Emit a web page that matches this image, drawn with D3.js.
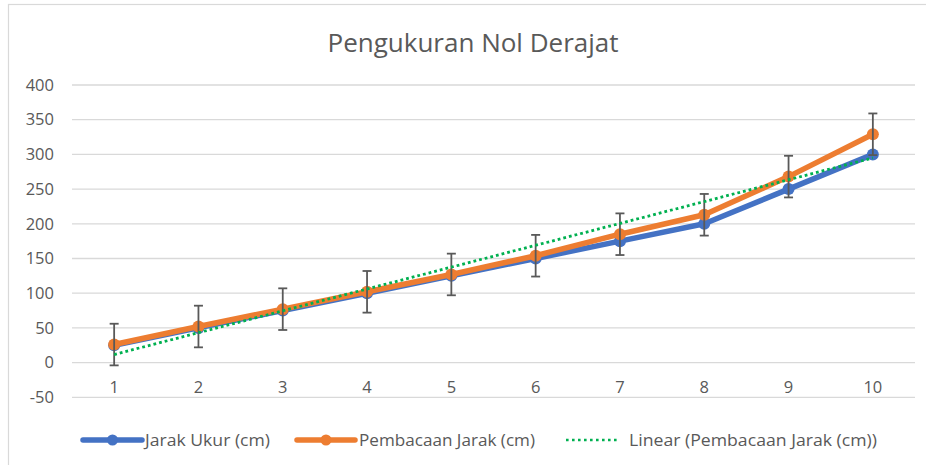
<!DOCTYPE html>
<html><head><meta charset="utf-8">
<script src="https://cdn.jsdelivr.net/npm/d3@7"></script>
<style>body{margin:0;background:#fff}svg{display:block;font-family:"Open Sans",sans-serif}</style>
</head><body><svg id="c" width="926" height="465"></svg>
<script>
const categories = [1,2,3,4,5,6,7,8,9,10];
const jarakUkur = [25,50,75,100,125,150,175,200,250,300];
const pembacaan = [26,52,77,102,127,154,185,213,268,329];
const errorAmount = 30;
const yTicks = [-50,0,50,100,150,200,250,300,350,400];
const seriesNames = ["Jarak Ukur (cm)","Pembacaan Jarak (cm)","Linear (Pembacaan Jarak (cm))"];
const title = "Pengukuran Nol Derajat";

const svg = d3.select("#c");
// chart border
svg.append("rect").attr("x",8.5).attr("y",4.5).attr("width",940).attr("height",480)
  .attr("fill","none").attr("stroke","#d9d9d9").attr("stroke-width",1.2);

const x = d3.scaleBand().domain(categories).range([72,915]);
const y = d3.scaleLinear().domain([-50,400]).range([397.3,85]);
const cx = d => x(d)+x.bandwidth()/2;

svg.append("text").attr("x",473).attr("y",52).attr("text-anchor","middle")
  .attr("font-size",26).attr("fill","#595959").text(title);

// gridlines
svg.append("g").selectAll("line").data(yTicks).join("line")
  .attr("x1",72).attr("x2",915).attr("y1",d=>y(d)).attr("y2",d=>y(d))
  .attr("stroke","#d9d9d9").attr("stroke-width",1.3);

// y axis labels
const yAxis = d3.axisLeft(y).tickValues(yTicks).tickSize(0).tickPadding(0).tickFormat(d=>d<0?"-"+Math.abs(d):d);
const ga = svg.append("g").attr("transform","translate(54,0)").call(yAxis);
ga.select(".domain").remove();
ga.selectAll("text").attr("font-size",16.5).attr("fill","#595959").attr("font-family","Open Sans");

// x axis labels
const xAxis = d3.axisBottom(x).tickSize(0).tickPadding(0);
const gx = svg.append("g").attr("transform","translate(0,0)").call(xAxis);
gx.select(".domain").remove();
gx.selectAll("text").attr("font-size",16.5).attr("fill","#595959").attr("font-family","Open Sans")
  .attr("dy",null).attr("y",393);

const line = d3.line().x((d,i)=>cx(categories[i])).y(d=>y(d));

function drawSeries(vals,color){
  svg.append("path").datum(vals).attr("d",line).attr("fill","none")
    .attr("stroke",color).attr("stroke-width",5.5).attr("stroke-linejoin","round").attr("stroke-linecap","round");
  svg.append("g").selectAll("circle").data(vals).join("circle")
    .attr("cx",(d,i)=>cx(categories[i])).attr("cy",d=>y(d)).attr("r",6).attr("fill",color);
}
drawSeries(jarakUkur,"#4472C4");
drawSeries(pembacaan,"#ED7D31");

// error bars on Pembacaan
const eb = svg.append("g").attr("stroke","#595959").attr("stroke-width",1.8);
pembacaan.forEach((v,i)=>{
  const px = cx(categories[i]);
  eb.append("line").attr("x1",px).attr("x2",px).attr("y1",y(v-errorAmount)).attr("y2",y(v+errorAmount));
  eb.append("line").attr("x1",px-4.5).attr("x2",px+4.5).attr("y1",y(v-errorAmount)).attr("y2",y(v-errorAmount));
  eb.append("line").attr("x1",px-4.5).attr("x2",px+4.5).attr("y1",y(v+errorAmount)).attr("y2",y(v+errorAmount));
});

// linear trendline of Pembacaan (least squares)
const mx = d3.mean(categories), my = d3.mean(pembacaan);
const slope = d3.sum(categories,(c,i)=>(c-mx)*(pembacaan[i]-my))/d3.sum(categories,c=>(c-mx)**2);
const icpt = my - slope*mx;
const c0 = categories[0], c1 = categories[categories.length-1];
svg.append("line").attr("x1",cx(c0)).attr("x2",cx(c1))
  .attr("y1",y(icpt+slope*c0)).attr("y2",y(icpt+slope*c1))
  .attr("stroke","#00B050").attr("stroke-width",2.8).attr("stroke-dasharray","2.8 3");

// legend
const ly = 440;
const lg = svg.append("g").attr("font-size",16.5).attr("fill","#595959");
const items = [
  {x1:83,x2:142,tx:145,tw:125,c:"#4472C4",t:seriesNames[0],type:"m"},
  {x1:297,x2:355,tx:359,tw:176,c:"#ED7D31",t:seriesNames[1],type:"m"},
  {x1:566,x2:619,tx:629,tw:248,c:"#00B050",t:seriesNames[2],type:"d"}];
items.forEach(it=>{
  if(it.type==="m"){
    lg.append("line").attr("x1",it.x1).attr("x2",it.x2).attr("y1",ly).attr("y2",ly)
      .attr("stroke",it.c).attr("stroke-width",5.5).attr("stroke-linecap","round");
    lg.append("circle").attr("cx",(it.x1+it.x2)/2).attr("cy",ly).attr("r",5.5).attr("fill",it.c);
  } else {
    lg.append("line").attr("x1",it.x1).attr("x2",it.x2).attr("y1",ly).attr("y2",ly)
      .attr("stroke",it.c).attr("stroke-width",2.6).attr("stroke-dasharray","2.6 3.4");
  }
  lg.append("text").attr("x",it.tx).attr("y",ly+6).attr("textLength",it.tw)
    .attr("lengthAdjust","spacingAndGlyphs").text(it.t);
});
</script></body></html>
